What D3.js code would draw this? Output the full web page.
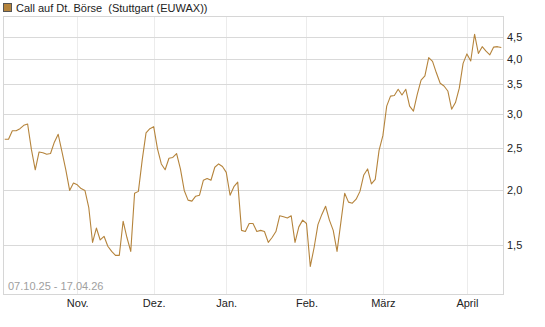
<!DOCTYPE html>
<html>
<head>
<meta charset="utf-8">
<script src="https://cdn.jsdelivr.net/npm/d3@7"></script>
<style>
  body { margin: 0; background: #fff; }
  svg { display: block; font-family: "Liberation Sans", Arial, sans-serif; }
</style>
</head>
<body>
<div id="chart"></div>
<script>
let w = 545;
let h = 327;

// plot box
let plotLeft = 3, plotRight = 503, plotTop = 16, plotBottom = 294;

let seriesName = "Call auf Dt. Börse  (Stuttgart (EUWAX))";
let rangeText = "07.10.25 - 17.04.26";

let startDay = "2025-10-07";
let endDay = "2026-04-16";
let holidays = ["2025-12-24", "2025-12-25", "2025-12-26", "2025-12-31", "2026-01-01", "2026-04-03", "2026-04-06"];

// one close per trading day
let prices = [
  2.62, 2.62, 2.74, 2.74, 2.77, 2.82, 2.84, 2.48, 2.23, 2.45,
  2.44, 2.42, 2.43, 2.58, 2.69, 2.45, 2.23, 2.00, 2.08, 2.06,
  2.02, 2.00, 1.83, 1.52, 1.64, 1.54, 1.57, 1.49, 1.45, 1.42,
  1.42, 1.70, 1.56, 1.45, 1.97, 1.99, 2.35, 2.71, 2.77, 2.80,
  2.49, 2.30, 2.23, 2.37, 2.38, 2.43, 2.24, 2.00, 1.90, 1.89,
  1.94, 1.95, 2.11, 2.13, 2.11, 2.26, 2.30, 2.27, 2.20, 1.95,
  2.04, 2.09, 1.62, 1.61, 1.68, 1.68, 1.61, 1.62, 1.61, 1.52,
  1.56, 1.61, 1.75, 1.74, 1.73, 1.75, 1.52, 1.65, 1.71, 1.68,
  1.34, 1.48, 1.67, 1.76, 1.84, 1.71, 1.62, 1.45, 1.69, 1.97,
  1.88, 1.87, 1.91, 1.99, 2.17, 2.24, 2.07, 2.12, 2.47, 2.67,
  3.12, 3.29, 3.30, 3.41, 3.31, 3.41, 3.12, 3.04, 3.32, 3.58,
  3.66, 4.03, 3.95, 3.72, 3.52, 3.47, 3.38, 3.07, 3.18, 3.43,
  3.91, 4.11, 3.96, 4.56, 4.12, 4.27, 4.17, 4.09, 4.26, 4.27,
  4.25
];

let yTicks = [1.5, 2, 2.5, 3, 3.5, 4, 4.5];
let monthLabels = ["Nov.", "Dez.", "Jan.", "Feb.", "März", "April"];

let lineColor = "#b5843c";

// trading days (weekdays minus exchange holidays)
let fmtDay = d3.timeFormat("%Y-%m-%d");
let parseDay = d3.timeParse("%Y-%m-%d");
let days = d3.timeDay.range(parseDay(startDay), d3.timeDay.offset(parseDay(endDay), 1))
  .filter(d => d.getDay() != 0 && d.getDay() != 6)
  .map(fmtDay)
  .filter(d => holidays.indexOf(d) < 0);

let data = days.map((d, i) => ({ day: d, price: prices[i] }));

// first trading day of each new month
let monthStarts = days.filter((d, i) => i > 0 && d.slice(0, 7) != days[i - 1].slice(0, 7));

let viz = d3.select("#chart")
  .append("svg")
  .attr("width", w)
  .attr("height", h);

let xScale = d3.scalePoint().domain(days).range([4.7, 501.3]);
let yScale = d3.scaleLog().domain([1.158, 5.02]).range([plotBottom, plotTop]);

let de = d3.formatLocale({ decimal: ",", thousands: ".", grouping: [3], currency: ["", "€"] });
let fmt = de.format(".1f");

// vertical grid
viz.append("g")
  .selectAll("line")
  .data(monthStarts)
  .enter()
  .append("line")
  .attr("x1", d => Math.round(xScale(d)) + 0.5)
  .attr("x2", d => Math.round(xScale(d)) + 0.5)
  .attr("y1", plotTop)
  .attr("y2", plotBottom)
  .attr("stroke", "#ececec")
  .attr("stroke-width", 1);

// horizontal grid
viz.append("g")
  .selectAll("line")
  .data(yTicks)
  .enter()
  .append("line")
  .attr("x1", plotLeft)
  .attr("x2", plotRight)
  .attr("y1", d => Math.round(yScale(d)) + 0.5)
  .attr("y2", d => Math.round(yScale(d)) + 0.5)
  .attr("stroke", "#d9d9d9")
  .attr("stroke-width", 1);

// plot frame
viz.append("rect")
  .attr("x", plotLeft + 0.5)
  .attr("y", plotTop + 0.5)
  .attr("width", plotRight - plotLeft)
  .attr("height", plotBottom - plotTop)
  .attr("fill", "none")
  .attr("stroke", "#d6d6d6");

// y axis on the right
let yAxis = d3.axisRight(yScale)
  .tickValues(yTicks)
  .tickFormat(fmt)
  .tickSize(0)
  .tickPadding(4);
let yAxisGroup = viz.append("g")
  .attr("transform", "translate(" + plotRight + ",0)")
  .call(yAxis);
yAxisGroup.select(".domain").remove();
yAxisGroup.selectAll("text")
  .attr("font-size", 11)
  .attr("font-family", "Liberation Sans, Arial, sans-serif")
  .attr("fill", "#222");

// x axis month labels
let xAxis = d3.axisBottom(xScale)
  .tickValues(monthStarts)
  .tickFormat((d, i) => monthLabels[i])
  .tickSize(0)
  .tickPadding(5);
let xAxisGroup = viz.append("g")
  .attr("transform", "translate(0," + plotBottom + ")")
  .call(xAxis);
xAxisGroup.select(".domain").remove();
xAxisGroup.selectAll("text")
  .attr("font-size", 11)
  .attr("font-family", "Liberation Sans, Arial, sans-serif")
  .attr("fill", "#222");

// date range note
viz.append("text")
  .attr("x", 8)
  .attr("y", 290)
  .attr("font-size", 11)
  .attr("fill", "#a0a0a0")
  .text(rangeText);

// price line
let line = d3.line()
  .x(d => xScale(d.day))
  .y(d => yScale(d.price));

viz.append("path")
  .datum(data)
  .attr("d", line)
  .attr("fill", "none")
  .attr("stroke", lineColor)
  .attr("stroke-width", 1.1)
  .attr("stroke-linejoin", "round");

// legend
viz.append("rect")
  .attr("x", 3.5)
  .attr("y", 3.5)
  .attr("width", 8)
  .attr("height", 8)
  .attr("fill", lineColor)
  .attr("stroke", "#555");

viz.append("text")
  .attr("x", 16)
  .attr("y", 12)
  .attr("font-size", 11)
  .attr("fill", "#222")
  .style("white-space", "pre")
  .text(seriesName);
</script>
</body>
</html>
